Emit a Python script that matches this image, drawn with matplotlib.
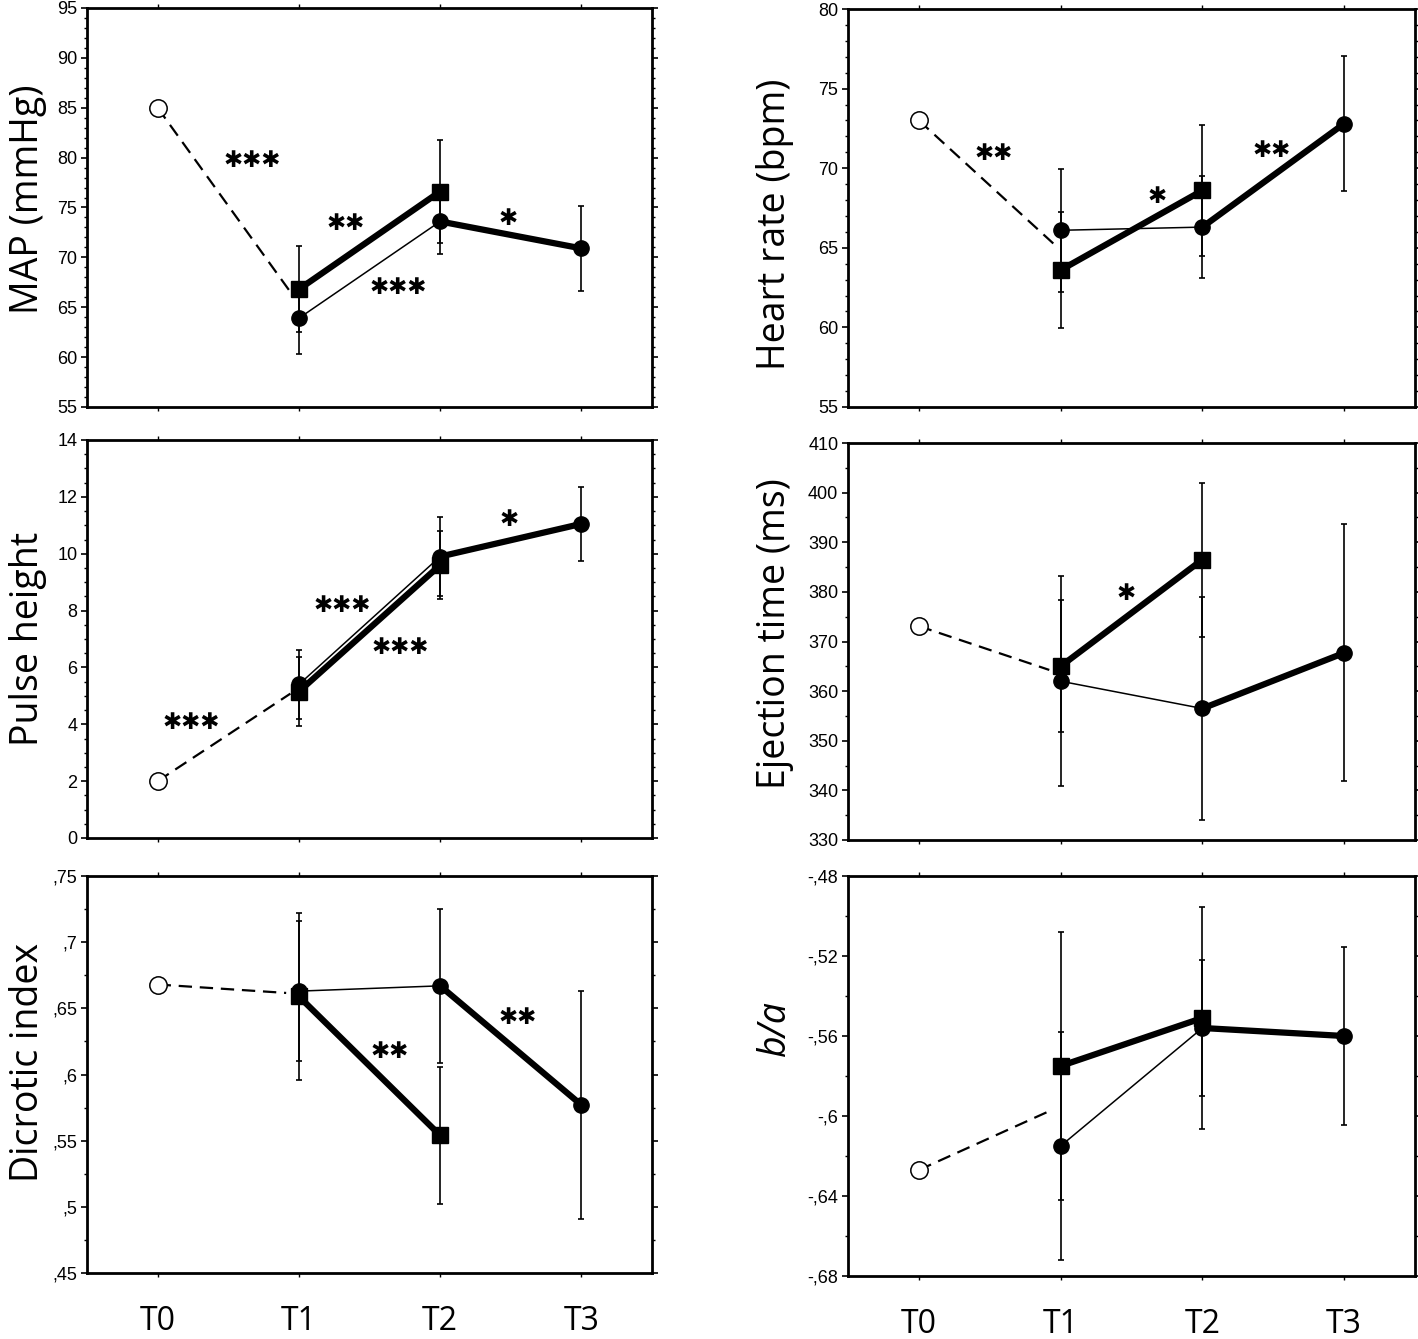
import matplotlib
matplotlib.use("Agg")
import matplotlib.pyplot as plt
from matplotlib.ticker import FixedLocator, AutoMinorLocator
from matplotlib import font_manager

# ---------------- data ----------------
timepoints = ["T0", "T1", "T2", "T3"]

# MAP (mmHg)
map_t0 = 85.0
map_circ = [63.9, 73.6, 70.9]        # T1, T2, T3
map_circ_sd = [3.6, 3.3, 4.3]
map_sq = [66.8, 76.6]                # T1, T2
map_sq_sd = [4.3, 5.2]
map_stars = ["***", "**", "***", "*"]
map_star_x = [0.67, 1.33, 1.70, 2.48]
map_star_y = [79.7, 73.4, 67.0, 73.9]
map_yticks = [55, 60, 65, 70, 75, 80, 85, 90, 95]

# Heart rate (bpm)
hr_t0 = 73.0
hr_circ = [66.1, 66.3, 72.8]
hr_circ_sd = [3.85, 3.2, 4.25]
hr_sq = [63.6, 68.6]
hr_sq_sd = [3.65, 4.1]
hr_stars = ["**", "*", "**"]
hr_star_x = [0.53, 1.68, 2.49]
hr_star_y = [70.9, 68.25, 71.1]
hr_yticks = [55, 60, 65, 70, 75, 80]

# Pulse height
ph_t0 = 2.0
ph_circ = [5.4, 9.9, 11.05]
ph_circ_sd = [1.2, 1.38, 1.3]
ph_sq = [5.15, 9.6]
ph_sq_sd = [1.22, 1.2]
ph_stars = ["***", "***", "***", "*"]
ph_star_x = [0.24, 1.31, 1.72, 2.49]
ph_star_y = [4.08, 8.17, 6.71, 11.2]
ph_yticks = [0, 2, 4, 6, 8, 10, 12, 14]

# Ejection time (ms)
et_t0 = 373.1
et_circ = [362.0, 356.5, 367.7]
et_circ_sd = [21.1, 22.4, 25.9]
et_sq = [365.0, 386.5]
et_sq_sd = [13.3, 15.5]
et_stars = ["*"]
et_star_x = [1.46]
et_star_y = [379.6]
et_yticks = [330, 340, 350, 360, 370, 380, 390, 400, 410]

# Dicrotic index
di_t0 = 0.668
di_circ = [0.663, 0.667, 0.577]
di_circ_sd = [0.053, 0.058, 0.086]
di_sq = [0.659, 0.554]
di_sq_sd = [0.063, 0.0515]
di_stars = ["**", "**"]
di_star_x = [1.64, 2.55]
di_star_y = [0.6175, 0.643]
di_yticks = [0.45, 0.50, 0.55, 0.60, 0.65, 0.70, 0.75]
di_yticklabels = [",45", ",5", ",55", ",6", ",65", ",7", ",75"]

# b/a
ba_t0 = -0.627
ba_circ = [-0.615, -0.556, -0.560]
ba_circ_sd = [0.057, 0.034, 0.0444]
ba_sq = [-0.575, -0.551]
ba_sq_sd = [0.067, 0.0556]
ba_stars = []
ba_star_x = []
ba_star_y = []
ba_yticks = [-0.68, -0.64, -0.60, -0.56, -0.52, -0.48]
ba_yticklabels = ["-,68", "-,64", "-,6", "-,56", "-,52", "-,48"]

# ---------------- fonts ----------------
avail = {f.name for f in font_manager.fontManager.ttflist}
label_font = ["Open Sans", "DejaVu Sans"] if "Open Sans" in avail else ["DejaVu Sans"]
tick_font = ["Liberation Sans", "DejaVu Sans"]
star_font = ["DejaVu Sans"]

panels = [
    dict(t0=map_t0, circ=map_circ, csd=map_circ_sd, sq=map_sq, ssd=map_sq_sd,
         stars=map_stars, sx=map_star_x, sy=map_star_y, yticks=map_yticks,
         yticklabels=[str(v) for v in map_yticks], ylim=(55, 95), minor=5,
         ylabel="MAP (mmHg)", italic=False, dash_end=0.955, lab_y=0.52),
    dict(t0=hr_t0, circ=hr_circ, csd=hr_circ_sd, sq=hr_sq, ssd=hr_sq_sd,
         stars=hr_stars, sx=hr_star_x, sy=hr_star_y, yticks=hr_yticks,
         yticklabels=[str(v) for v in hr_yticks], ylim=(55, 80), minor=5,
         ylabel="Heart rate (bpm)", italic=False, dash_end=0.96, lab_y=0.46),
    dict(t0=ph_t0, circ=ph_circ, csd=ph_circ_sd, sq=ph_sq, ssd=ph_sq_sd,
         stars=ph_stars, sx=ph_star_x, sy=ph_star_y, yticks=ph_yticks,
         yticklabels=[str(v) for v in ph_yticks], ylim=(0, 14), minor=4,
         ylabel="Pulse height", italic=False, dash_end=0.94, lab_y=0.50),
    dict(t0=et_t0, circ=et_circ, csd=et_circ_sd, sq=et_sq, ssd=et_sq_sd,
         stars=et_stars, sx=et_star_x, sy=et_star_y, yticks=et_yticks,
         yticklabels=[str(v) for v in et_yticks], ylim=(330, 410), minor=2,
         ylabel="Ejection time (ms)", italic=False, dash_end=0.92, lab_y=0.52),
    dict(t0=di_t0, circ=di_circ, csd=di_circ_sd, sq=di_sq, ssd=di_sq_sd,
         stars=di_stars, sx=di_star_x, sy=di_star_y, yticks=di_yticks,
         yticklabels=di_yticklabels, ylim=(0.45, 0.75), minor=2,
         ylabel="Dicrotic index", italic=False, dash_end=0.91, lab_y=0.53),
    dict(t0=ba_t0, circ=ba_circ, csd=ba_circ_sd, sq=ba_sq, ssd=ba_sq_sd,
         stars=ba_stars, sx=ba_star_x, sy=ba_star_y, yticks=ba_yticks,
         yticklabels=ba_yticklabels, ylim=(-0.68, -0.48), minor=2,
         ylabel="b/a", italic=True, dash_end=0.935, lab_y=0.62),
]

# ---------------- layout ----------------
W, H = 1418, 1339
fig = plt.figure(figsize=(W / 100, H / 100), dpi=100)
fig.patch.set_facecolor("white")


def box(x0, x1, y0, y1):
    return [x0 / W, 1 - y1 / H, (x1 - x0) / W, (y1 - y0) / H]


positions = [box(87, 652, 8, 407), box(848, 1415, 9, 407),
             box(87, 652, 440, 838), box(848, 1415, 443, 840),
             box(87, 652, 876, 1273), box(848, 1415, 876, 1276)]

x_circ = [1, 2, 3]
x_sq = [1, 2]

for i, (p, pos) in enumerate(zip(panels, positions)):
    ax = fig.add_axes(pos)
    ax.set_xlim(-0.5, 3.5)
    ax.set_ylim(*p["ylim"])

    # error bars
    ax.errorbar(x_sq, p["sq"], yerr=p["ssd"], fmt="none", ecolor="black",
                elinewidth=1.2, capsize=2.5, capthick=1.2, zorder=2)
    ax.errorbar(x_circ, p["circ"], yerr=p["csd"], fmt="none", ecolor="black",
                elinewidth=1.2, capsize=2.5, capthick=1.2, zorder=2)

    # dashed baseline line toward pooled T1 mean
    pooled = (p["circ"][0] + p["sq"][0]) / 2.0
    f = p["dash_end"]
    ax.plot([0, f], [p["t0"], p["t0"] + f * (pooled - p["t0"])], color="black",
            lw=1.6, linestyle=(0, (6, 3.5)), zorder=3)

    # connecting lines
    ax.plot(x_circ[:2], p["circ"][:2], color="black", lw=1.1, zorder=3,
            solid_capstyle="round")
    ax.plot(x_sq, p["sq"], color="black", lw=4.5, zorder=3,
            solid_capstyle="round")
    ax.plot(x_circ[1:], p["circ"][1:], color="black", lw=4.5, zorder=3,
            solid_capstyle="round")

    # markers
    ax.plot(x_circ, p["circ"], linestyle="none", marker="o", ms=11,
            color="black", zorder=4)
    ax.plot(x_sq, p["sq"], linestyle="none", marker="s", ms=11,
            color="black", zorder=4)
    ax.plot([0], [p["t0"]], linestyle="none", marker="o", ms=12.5,
            mfc="white", mec="black", mew=1.1, zorder=5)

    # significance stars
    for s, sx, sy in zip(p["stars"], p["sx"], p["sy"]):
        ax.text(sx, sy, "\u2731" * len(s), ha="center", va="center",
                fontsize=16.5, family=star_font, color="black", zorder=6)

    # ticks
    ax.set_xticks(range(len(timepoints)))
    bottom_row = i >= 4
    ax.set_xticklabels(timepoints if bottom_row else [""] * len(timepoints))
    ax.tick_params(axis="x", which="major", direction="out", top=True,
                   bottom=True, length=3, width=1.0, pad=20,
                   labelbottom=bottom_row, labelsize=23)
    for lab in ax.get_xticklabels():
        lab.set_family(label_font)

    ax.yaxis.set_major_locator(FixedLocator(p["yticks"]))
    ax.set_yticklabels(p["yticklabels"])
    ax.yaxis.set_minor_locator(AutoMinorLocator(p["minor"]))
    ax.tick_params(axis="y", which="major", direction="out", left=True,
                   right=True, length=4, width=1.2, labelsize=13, pad=3)
    ax.tick_params(axis="y", which="minor", direction="out", left=True,
                   right=True, length=2, width=1.0)
    for lab in ax.get_yticklabels():
        lab.set_family(tick_font)

    for sp in ax.spines.values():
        sp.set_linewidth(2.0)
        sp.set_color("black")

    ax.set_ylabel(p["ylabel"], fontsize=27, family=label_font,
                  style="italic" if p["italic"] else "normal")
    lx = -0.07 if i % 2 == 0 else -0.095
    ax.yaxis.set_label_coords(lx, p["lab_y"])

fig.savefig("out.png", dpi=100, facecolor="white")
